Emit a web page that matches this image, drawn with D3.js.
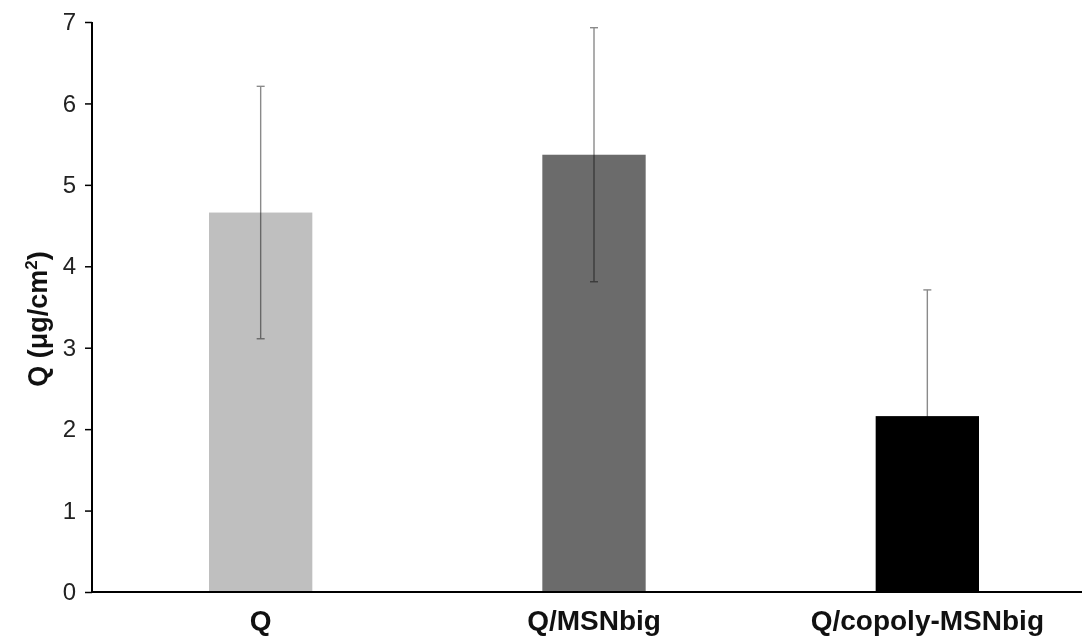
<!DOCTYPE html>
<html>
<head>
<meta charset="utf-8">
<script src="https://cdn.jsdelivr.net/npm/d3@7"></script>
<style>
  body { margin: 0; background: #fff; }
  svg { display: block; }
</style>
</head>
<body>
<script>
// data
const categories = ["Q", "Q/MSNbig", "Q/copoly-MSNbig"];
const means = [4.66, 5.37, 2.16];
const errors = [1.55, 1.56, 1.55];
const barColors = ["#bfbfbf", "#6b6b6b", "#000000"];
const yTicks = [0, 1, 2, 3, 4, 5, 6, 7];

const canvasW = 1082;
const canvasH = 637;

let xScale = d3.scaleBand()
  .domain(categories)
  .range([94, 1094])
  .paddingInner(0.69)
  .paddingOuter(0.345);

let yScale = d3.scaleLinear()
  .domain([0, 7])
  .range([592, 22]);

let svg = d3.select("body")
  .append("svg")
    .attr("width", canvasW)
    .attr("height", canvasH)
    .style("background-color", "#fff");

let rows = categories.map((c, i) => ({ cat: c, v: means[i], e: errors[i], col: barColors[i] }));

// bars
svg.selectAll(".bar")
  .data(rows)
  .enter()
  .append("rect")
    .attr("class", "bar")
    .attr("x", d => xScale(d.cat))
    .attr("y", d => yScale(d.v))
    .attr("width", xScale.bandwidth())
    .attr("height", d => yScale(0) - yScale(d.v))
    .attr("fill", d => d.col);

// error bars (multiply so they vanish on the black bar like the original)
let eb = svg.selectAll(".err")
  .data(rows)
  .enter()
  .append("g")
    .attr("class", "err")
    .attr("stroke", "#8a8a8a")
    .attr("stroke-width", 1.4)
    .style("mix-blend-mode", "multiply");

eb.append("line")
  .attr("x1", d => xScale(d.cat) + xScale.bandwidth() / 2)
  .attr("x2", d => xScale(d.cat) + xScale.bandwidth() / 2)
  .attr("y1", d => yScale(d.v + d.e))
  .attr("y2", d => yScale(d.v - d.e));

eb.selectAll(".cap")
  .data(d => [d.v + d.e, d.v - d.e].map(y => ({ y: y, d: d })))
  .enter()
  .append("line")
    .attr("x1", c => xScale(c.d.cat) + xScale.bandwidth() / 2 - 4)
    .attr("x2", c => xScale(c.d.cat) + xScale.bandwidth() / 2 + 4)
    .attr("y1", c => yScale(c.y))
    .attr("y2", c => yScale(c.y));

// y axis
const yAxis = svg.append("g")
  .attr("transform", "translate(92,0)")
  .call(d3.axisLeft(yScale).tickValues(yTicks).tickSize(7).tickPadding(9).tickFormat(d3.format("d")));
yAxis.select(".domain").attr("stroke", "#000").attr("stroke-width", 2).attr("d", "M0," + yScale(7) + "V" + yScale(0));
yAxis.selectAll(".tick line").attr("stroke", "#000").attr("stroke-width", 1.5);
yAxis.selectAll(".tick text")
  .attr("font-family", "Liberation Sans, Arial, sans-serif")
  .attr("font-size", "24px")
  .attr("fill", "#222");

// x axis
const xAxis = svg.append("g")
  .attr("transform", "translate(0," + yScale(0) + ")")
  .call(d3.axisBottom(xScale).tickSize(0).tickPadding(18));
xAxis.select(".domain").attr("stroke", "#000").attr("stroke-width", 2).attr("d", "M91,0H1082");
xAxis.selectAll(".tick text")
  .attr("font-family", "Liberation Sans, Arial, sans-serif")
  .attr("font-size", "28px")
  .attr("font-weight", "bold")
  .attr("fill", "#111");

// y title
const yText = svg.append("text")
  .attr("text-anchor", "middle")
  .attr("font-family", "Liberation Sans, Arial, sans-serif")
  .attr("font-size", "27px")
  .attr("font-weight", "bold")
  .attr("fill", "#111")
  .attr("transform", "translate(47,319) rotate(-90)");
yText.append("tspan").text("Q (μg/cm");
yText.append("tspan").attr("font-size", "17px").attr("dy", "-10").text("2");
yText.append("tspan").attr("dy", "10").text(")");
</script>
</body>
</html>
